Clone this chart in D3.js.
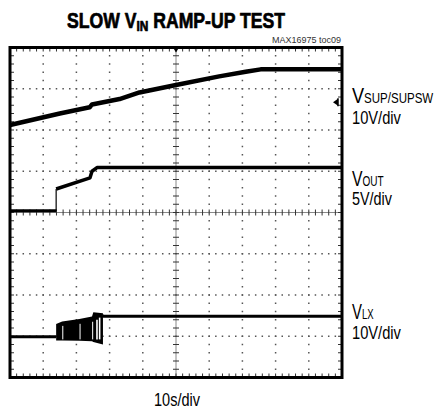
<!DOCTYPE html>
<html>
<head>
<meta charset="utf-8">
<script src="https://cdn.jsdelivr.net/npm/d3@7"></script>
<style>
  html, body { margin: 0; padding: 0; background: #fff; }
  svg { display: block; }
  text { font-family: "Liberation Sans", Arial, sans-serif; }
</style>
</head>
<body>
<svg id="chart" width="437" height="413"></svg>
<script>
// ---- Data (time in seconds, 10 s/div; vertical position in screen divisions, 0 = bottom, 8 = top) ----
const timeDivisions = 10;            // horizontal divisions
const voltDivisions = 8;             // vertical divisions
const timePerDiv = 10;               // 10s/div

const vsupTime = [0, 15, 24, 24.7, 33, 39, 50, 63, 71, 75.5, 100];
const vsupDiv  = [6.12, 6.40, 6.55, 6.62, 6.75, 6.91, 7.09, 7.30, 7.41, 7.47, 7.47];

const voutTime = [0, 13.9, 13.9, 24.1, 24.7, 26.2, 100];
const voutDiv  = [4.04, 4.04, 4.57, 4.84, 5.0, 5.09, 5.09];

const vlxTime  = [0, 13.9];
const vlxDiv   = [0.985, 0.985];
const vlxTime2 = [27.9, 28.2, 100];
const vlxDiv2  = [1.50, 1.486, 1.486];

// switching burst envelope on V_LX
const burstTime = [13.9, 15.7, 20.9, 24.7, 25.1, 28.0];
const burstHigh = [1.30, 1.36, 1.42, 1.48, 1.58, 1.56];
const burstLow  = [0.90, 0.90, 0.89, 0.88, 0.86, 0.80];
const burstGaps = [15.9, 21.1, 24.9, 26.2, 27.0];

const titleMain = "SLOW V", titleSub = "IN", titleRest = " RAMP-UP TEST";
const noteText = "MAX16975 toc09";
const xLabel = "10s/div";
const channelLabels = [
  {main: "V", sub: "SUP/SUPSW", scale: "10V/div", y: 103, w: 82, ws: 49, dy: 21},
  {main: "V", sub: "OUT",       scale: "5V/div",  y: 186, w: 32, ws: 40, dy: 19},
  {main: "V", sub: "LX",        scale: "10V/div", y: 319, w: 22, ws: 49, dy: 20}
];

// ---- Scales ----
const x = d3.scaleLinear().domain([0, timeDivisions * timePerDiv]).range([10, 342]);
const y = d3.scaleLinear().domain([0, voltDivisions]).range([377.5, 47.5]);

const svg = d3.select("#chart");

// ---- Grid dots ----
const g = svg.append("g");
const dotColor = "#555";
for (let j = 1; j < voltDivisions; j++) {
  if (j === voltDivisions / 2) continue;
  for (let k = 1; k < timeDivisions * 5; k++) {
    g.append("rect").attr("x", x(k * timePerDiv / 5) - 0.75).attr("y", y(j) - 0.75)
      .attr("width", 1.5).attr("height", 1.5).attr("fill", dotColor);
  }
}
for (let i = 1; i < timeDivisions; i++) {
  if (i === timeDivisions / 2) continue;
  for (let m = 1; m < voltDivisions * 5; m++) {
    g.append("rect").attr("x", x(i * timePerDiv) - 0.75).attr("y", y(m / 5) - 0.75)
      .attr("width", 1.5).attr("height", 1.5).attr("fill", dotColor);
  }
}

// ---- Center axes with ticks ----
const cx = x(timeDivisions * timePerDiv / 2), cy = y(voltDivisions / 2);
g.append("line").attr("x1", x(0)).attr("x2", x(100)).attr("y1", cy).attr("y2", cy)
  .attr("stroke", "#888").attr("stroke-width", 1);
g.append("line").attr("x1", cx).attr("x2", cx).attr("y1", y(0)).attr("y2", y(8))
  .attr("stroke", "#888").attr("stroke-width", 1);
for (let k = 1; k < timeDivisions * 5; k++) {
  const xx = x(k * timePerDiv / 5);
  g.append("line").attr("x1", xx).attr("x2", xx).attr("y1", cy - 3).attr("y2", cy + 3)
    .attr("stroke", "#333").attr("stroke-width", 1);
  g.append("line").attr("x1", xx).attr("x2", xx).attr("y1", y(8)).attr("y2", y(8) + 4)
    .attr("stroke", "#333").attr("stroke-width", 1);
  g.append("line").attr("x1", xx).attr("x2", xx).attr("y1", y(0)).attr("y2", y(0) - 4)
    .attr("stroke", "#333").attr("stroke-width", 1);
}
for (let m = 1; m < voltDivisions * 5; m++) {
  const yy = y(m / 5);
  g.append("line").attr("x1", cx - 3).attr("x2", cx + 3).attr("y1", yy).attr("y2", yy)
    .attr("stroke", "#333").attr("stroke-width", 1);
  g.append("line").attr("x1", x(0)).attr("x2", x(0) + 4).attr("y1", yy).attr("y2", yy)
    .attr("stroke", "#333").attr("stroke-width", 1);
  g.append("line").attr("x1", x(100)).attr("x2", x(100) - 4).attr("y1", yy).attr("y2", yy)
    .attr("stroke", "#333").attr("stroke-width", 1);
}

// ---- Traces ----
const line = d3.line().x(d => x(d[0])).y(d => y(d[1]));
const tr = svg.append("g");
tr.append("path").datum(d3.zip(vsupTime, vsupDiv)).attr("d", line)
  .attr("fill", "none").attr("stroke", "#000").attr("stroke-width", 4.5).attr("stroke-linejoin", "round");
tr.append("path").datum(d3.zip(voutTime.slice(0, 2), voutDiv.slice(0, 2))).attr("d", line)
  .attr("fill", "none").attr("stroke", "#000").attr("stroke-width", 3);
tr.append("path").datum(d3.zip(voutTime.slice(1, 3), voutDiv.slice(1, 3))).attr("d", line)
  .attr("fill", "none").attr("stroke", "#000").attr("stroke-width", 1.2);
tr.append("path").datum(d3.zip(voutTime.slice(2), voutDiv.slice(2))).attr("d", line)
  .attr("fill", "none").attr("stroke", "#000").attr("stroke-width", 3.5).attr("stroke-linejoin", "round");
tr.append("path").datum(d3.zip(vlxTime, vlxDiv)).attr("d", line)
  .attr("fill", "none").attr("stroke", "#000").attr("stroke-width", 3);
tr.append("path").datum(d3.zip(vlxTime2, vlxDiv2)).attr("d", line)
  .attr("fill", "none").attr("stroke", "#000").attr("stroke-width", 3);
const area = d3.area().x(d => x(d[0])).y0(d => y(d[2])).y1(d => y(d[1]));
tr.append("path").datum(d3.zip(burstTime, burstHigh, burstLow)).attr("d", area).attr("fill", "#000");
burstGaps.forEach((t, i) => {
  tr.append("line").attr("x1", x(t)).attr("x2", x(t))
    .attr("y1", y(1.30 + 0.05 * i) + 2).attr("y2", y(0.90) - 1)
    .attr("stroke", "#fff").attr("stroke-width", i >= 3 ? 1.6 : 1);
});

// ---- Frame ----
svg.append("rect").attr("x", x(0)).attr("y", y(8)).attr("width", x(100) - x(0)).attr("height", y(0) - y(8))
  .attr("fill", "none").attr("stroke", "#000").attr("stroke-width", 3);

// trigger marker (top center) and ground marker (right)
svg.append("path").attr("d", `M${cx - 3},${y(8)} L${cx + 3},${y(8)} L${cx},${y(8) + 5} Z`).attr("fill", "#000");
const gy = y(6.67);
svg.append("path").attr("d", `M${x(100) - 9},${gy} L${x(100) - 4},${gy - 3.5} L${x(100) - 4},${gy + 3.5} Z`).attr("fill", "#000");
svg.append("line").attr("x1", x(100) - 4).attr("x2", x(100) - 4).attr("y1", gy - 4).attr("y2", gy + 4)
  .attr("stroke", "#000").attr("stroke-width", 1.5);

// ---- Text (condensed by horizontal scaling to the reference widths) ----
function fitted(px, py, anchor, width) {
  const grp = svg.append("g");
  const t = grp.append("text").attr("x", 0).attr("y", 0).attr("text-anchor", anchor).attr("fill", "#000");
  return {grp, t, fit() {
    const w = t.node().getBBox().width;
    const s = width / w;
    grp.attr("transform", `translate(${px},${py}) scale(${s},1)`);
  }};
}

const title = fitted(176, 28, "middle", 218);
title.t.attr("font-weight", "bold").attr("font-size", 21.5)
  .attr("stroke", "#000").attr("stroke-width", 0.7).attr("stroke-linejoin", "round");
title.t.append("tspan").text(titleMain);
title.t.append("tspan").attr("font-size", 14.5).attr("dy", 2.7).text(titleSub);
title.t.append("tspan").attr("dy", -2.7).text(titleRest);
title.fit();

svg.append("text").attr("x", 341).attr("y", 43).attr("text-anchor", "end")
  .attr("font-size", 9).attr("fill", "#333").text(noteText);

const xl = fitted(177, 406, "middle", 46);
xl.t.attr("font-size", 18).text(xLabel);
xl.fit();

channelLabels.forEach(c => {
  const a = fitted(352, c.y, "start", c.w);
  a.t.append("tspan").attr("font-size", 22).text(c.main);
  a.t.append("tspan").attr("font-size", 14).text(c.sub);
  a.fit();
  const b = fitted(352, c.y + c.dy, "start", c.ws);
  b.t.attr("font-size", 18).text(c.scale);
  b.fit();
});
</script>
</body>
</html>
